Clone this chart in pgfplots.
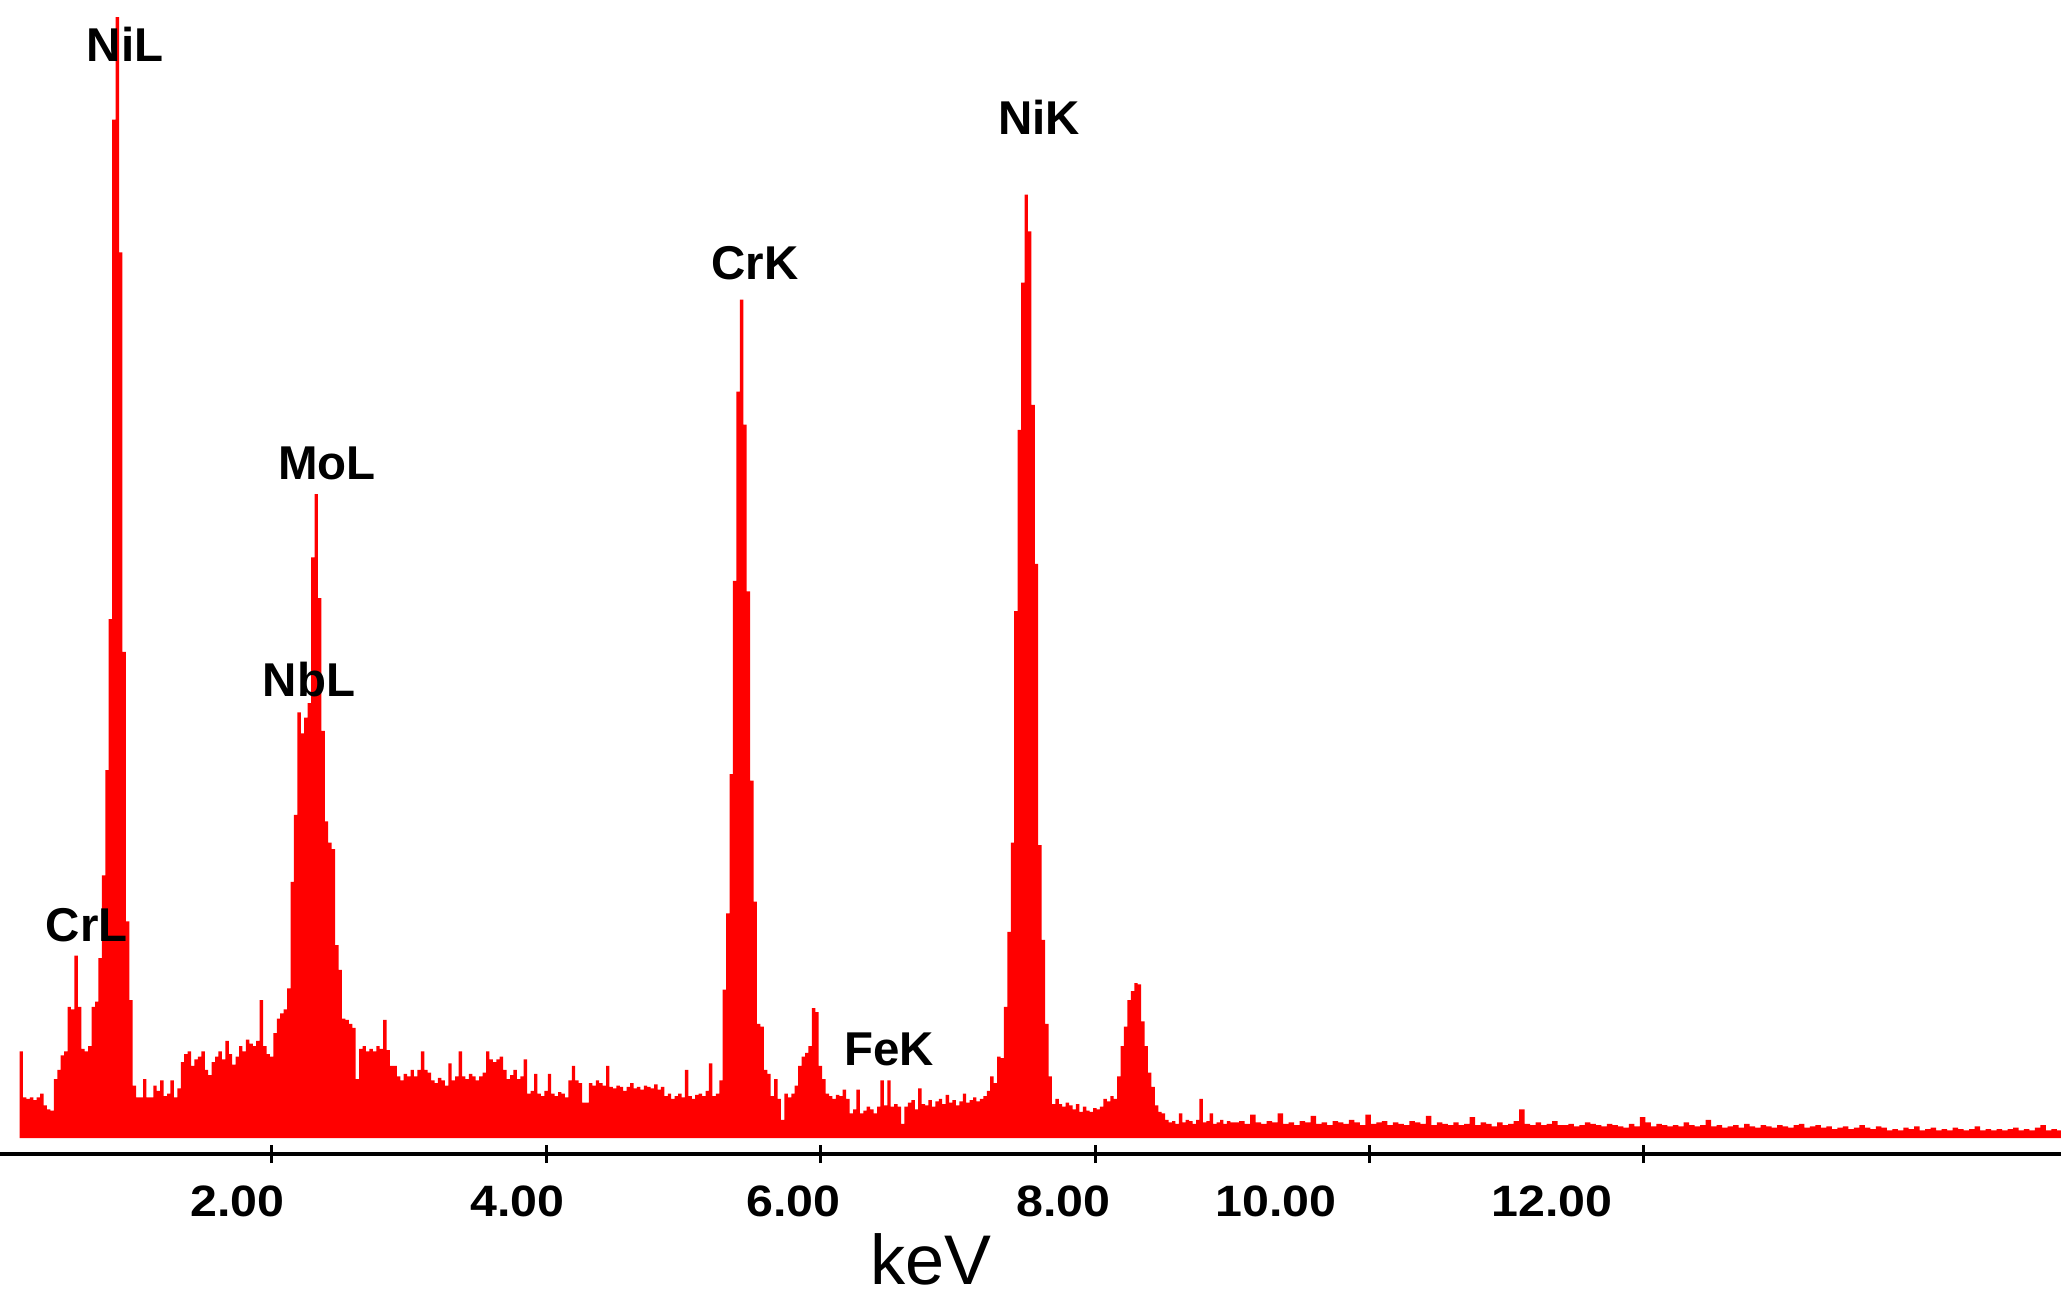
\documentclass[border=0pt]{standalone}
\usepackage{fontspec}
\setmainfont{Liberation Sans}
\usepackage{graphicx}
\usepackage{pgfplots}
\pgfplotsset{compat=1.18}
\definecolor{specred}{RGB}{255,0,0}
\newcommand{\tl}[1]{\scalebox{1.1}[1]{#1}}

\begin{document}
\begin{tikzpicture}
\begin{axis}[
  at={(0,0)}, anchor=north west,
  scale only axis, width=20.61cm, height=11.54cm,
  xmin=0.0175, xmax=15.04, ymin=-12, ymax=866,
  axis y line=none, axis x line*=bottom,
  axis line style={line width=0.45mm, black},
  xtick={2,4,6,8,10,12}, xticklabels={},
  xtick align=center, major tick length=1.8mm,
  tick style={line width=0.3mm, black},
  minor tick num=0,
  extra x ticks={1.75,3.79,5.80,7.77,9.32,11.33},
  extra x tick labels={\tl{2.00},\tl{4.00},\tl{6.00},\tl{8.00},\tl{10.00},\tl{12.00}},
  extra x tick style={major tick length=0pt,
    xticklabel style={anchor=base, yshift=-6.2mm,
      font=\fontsize{12.5}{14}\selectfont\bfseries}},
  xlabel={keV},
  xlabel style={at={(axis description cs:0.4515,-0.1207)}, anchor=base,
    yshift=0.9mm, font=\fontsize{20}{24}\selectfont},
  clip=false,
]
% EDS spectrum, counts per channel (arbitrary units)
\addplot[const plot, fill=specred, draw=none] coordinates {
(0.16,66) (0.185,31) (0.21,30) (0.235,31) (0.26,29) (0.285,31) (0.31,34) (0.335,25)
(0.36,22) (0.385,21) (0.41,45) (0.435,52) (0.46,63) (0.485,66) (0.51,100) (0.535,98)
(0.56,139) (0.585,100) (0.61,68) (0.635,66) (0.66,70) (0.685,100) (0.71,104) (0.735,137)
(0.76,200) (0.785,280) (0.81,395) (0.835,775) (0.86,853) (0.885,674) (0.91,370) (0.935,165)
(0.96,105) (0.985,40) (1.01,31) (1.035,31) (1.06,45) (1.085,31) (1.11,31) (1.135,40)
(1.16,36) (1.185,44) (1.21,32) (1.235,34) (1.26,44) (1.285,31) (1.31,38) (1.335,58)
(1.36,64) (1.385,66) (1.41,55) (1.435,60) (1.46,62) (1.485,66) (1.51,52) (1.535,48)
(1.56,58) (1.585,62) (1.61,66) (1.635,60) (1.66,74) (1.685,64) (1.71,56) (1.735,62)
(1.76,70) (1.785,66) (1.81,75) (1.835,72) (1.86,70) (1.885,74) (1.91,105) (1.935,70)
(1.96,64) (1.985,62) (2.01,80) (2.035,91) (2.06,95) (2.085,98) (2.11,114) (2.135,195)
(2.16,246) (2.185,324) (2.21,308) (2.235,320) (2.26,331) (2.285,442) (2.31,490) (2.335,411)
(2.36,310) (2.385,241) (2.41,225) (2.435,220) (2.46,147) (2.485,128) (2.51,91) (2.535,90)
(2.56,87) (2.585,84) (2.61,45) (2.635,68) (2.66,70) (2.685,66) (2.71,68) (2.735,66)
(2.76,70) (2.785,68) (2.81,90) (2.835,67) (2.86,55) (2.885,55) (2.91,47) (2.935,44)
(2.96,49) (2.985,47) (3.01,52) (3.035,47) (3.06,52) (3.085,66) (3.11,52) (3.135,50)
(3.16,44) (3.185,42) (3.21,46) (3.235,44) (3.26,40) (3.285,57) (3.31,44) (3.335,47)
(3.36,66) (3.385,47) (3.41,45) (3.435,49) (3.46,47) (3.485,44) (3.51,47) (3.535,50)
(3.56,66) (3.585,60) (3.61,58) (3.635,60) (3.66,62) (3.685,52) (3.71,45) (3.735,48)
(3.76,52) (3.785,45) (3.81,47) (3.835,60) (3.86,34) (3.885,36) (3.91,49) (3.935,34)
(3.96,32) (3.985,36) (4.01,49) (4.035,34) (4.06,32) (4.085,35) (4.11,34) (4.135,31)
(4.16,44) (4.185,55) (4.21,44) (4.235,42) (4.26,27) (4.285,27) (4.31,42) (4.335,40)
(4.36,44) (4.385,42) (4.41,40) (4.435,55) (4.46,39) (4.485,38) (4.51,40) (4.535,39)
(4.56,36) (4.585,39) (4.61,42) (4.635,38) (4.66,39) (4.685,37) (4.71,40) (4.735,39)
(4.76,38) (4.785,41) (4.81,37) (4.835,39) (4.86,32) (4.885,34) (4.91,30) (4.935,32)
(4.96,34) (4.985,31) (5.01,52) (5.035,32) (5.06,30) (5.085,33) (5.11,34) (5.135,32)
(5.16,36) (5.185,57) (5.21,32) (5.235,34) (5.26,44) (5.285,113) (5.31,171) (5.335,277)
(5.36,424) (5.385,568) (5.41,638) (5.435,543) (5.46,416) (5.485,272) (5.51,180) (5.535,87)
(5.56,85) (5.585,52) (5.61,49) (5.635,32) (5.66,45) (5.685,30) (5.71,14) (5.735,34)
(5.76,31) (5.785,34) (5.81,40) (5.835,55) (5.86,62) (5.885,65) (5.91,70) (5.935,99)
(5.96,96) (5.985,55) (6.01,45) (6.035,34) (6.06,32) (6.085,30) (6.11,33) (6.135,32)
(6.16,37) (6.185,30) (6.21,19) (6.235,22) (6.26,37) (6.285,19) (6.31,21) (6.335,24)
(6.36,22) (6.385,19) (6.41,24) (6.435,44) (6.46,25) (6.485,44) (6.51,24) (6.535,26)
(6.56,24) (6.585,11) (6.61,24) (6.635,27) (6.66,29) (6.685,22) (6.71,38) (6.735,26)
(6.76,25) (6.785,29) (6.81,24) (6.835,28) (6.86,30) (6.885,26) (6.91,33) (6.935,27)
(6.96,29) (6.985,25) (7.01,28) (7.035,34) (7.06,27) (7.085,29) (7.11,31) (7.135,28)
(7.16,30) (7.185,32) (7.21,36) (7.235,47) (7.26,42) (7.285,62) (7.31,61) (7.335,100)
(7.36,157) (7.385,225) (7.41,401) (7.435,539) (7.46,651) (7.485,718) (7.51,690) (7.535,558)
(7.56,437) (7.585,223) (7.61,151) (7.635,87) (7.66,47) (7.685,26) (7.71,30) (7.735,26)
(7.76,24) (7.785,27) (7.81,25) (7.835,22) (7.86,26) (7.885,20) (7.91,24) (7.935,21)
(7.96,20) (7.985,23) (8.01,22) (8.035,24) (8.06,30) (8.085,28) (8.11,32) (8.135,30)
(8.16,47) (8.185,70) (8.21,85) (8.235,105) (8.26,112) (8.285,118) (8.31,117) (8.335,89)
(8.36,70) (8.385,50) (8.41,39) (8.435,25) (8.46,20) (8.485,19) (8.51,14) (8.535,12)
(8.56,13) (8.585,11) (8.61,19) (8.635,12) (8.66,14) (8.685,13) (8.71,11) (8.735,14)
(8.76,30) (8.785,12) (8.81,13) (8.835,19) (8.86,11) (8.885,12) (8.91,14) (8.935,11)
(8.96,13) (8.985,12)
(9.01,12) (9.05,13) (9.09,11) (9.13,18) (9.17,12) (9.21,11) (9.25,13) (9.29,12) (9.33,19) (9.37,11)
(9.41,12) (9.45,10) (9.49,13) (9.53,12) (9.57,17) (9.61,11) (9.65,12) (9.69,10) (9.73,13) (9.77,12)
(9.81,11) (9.85,14) (9.89,12) (9.93,10) (9.97,18) (10.01,11) (10.05,12) (10.09,13) (10.13,10) (10.17,12)
(10.21,11) (10.25,10) (10.29,13) (10.33,12) (10.37,11) (10.41,17) (10.45,10) (10.49,12) (10.53,11) (10.57,10)
(10.61,12) (10.65,10) (10.69,11) (10.73,16) (10.77,10) (10.81,12) (10.85,11) (10.89,9) (10.93,12) (10.97,10)
(11.01,11) (11.05,13) (11.09,22) (11.13,11) (11.17,10) (11.21,12) (11.25,10) (11.29,11) (11.33,13) (11.37,10)
(11.41,10) (11.45,11) (11.49,9) (11.53,10) (11.57,12) (11.61,11) (11.65,10) (11.69,9) (11.73,11) (11.77,10)
(11.81,9) (11.85,8) (11.89,11) (11.93,9) (11.97,16) (12.01,12) (12.05,9) (12.09,11) (12.13,10) (12.17,9)
(12.21,10) (12.25,9) (12.29,12) (12.33,10) (12.37,9) (12.41,10) (12.45,14) (12.49,9) (12.53,10) (12.57,8)
(12.61,9) (12.65,10) (12.69,8) (12.73,11) (12.77,9) (12.81,8) (12.85,10) (12.89,9) (12.93,8) (12.97,10)
(13.01,9) (13.05,8) (13.09,10) (13.13,11) (13.17,8) (13.21,9) (13.25,10) (13.29,8) (13.33,9) (13.37,7)
(13.41,8) (13.45,9) (13.49,7) (13.53,8) (13.57,10) (13.61,8) (13.65,7) (13.69,9) (13.73,8) (13.77,6)
(13.81,7) (13.85,6) (13.89,8) (13.93,7) (13.97,9) (14.01,6) (14.05,7) (14.09,8) (14.13,6) (14.17,7)
(14.21,6) (14.25,8) (14.29,7) (14.33,6) (14.37,7) (14.41,9) (14.45,6) (14.49,7) (14.53,6) (14.57,7)
(14.61,6) (14.65,7) (14.69,8) (14.73,6) (14.77,7) (14.81,6) (14.85,8) (14.89,10) (14.93,6) (14.97,7)
(15.01,6) (15.05,6)
} \closedcycle;

% peak labels
\begin{scope}[every node/.style={anchor=base, inner sep=0pt,
    font=\fontsize{13.5}{16}\selectfont\bfseries}]
\node at (axis cs:0.93,819) {NiL};
\node at (axis cs:7.59,764) {NiK};
\node at (axis cs:5.52,653) {CrK};
\node at (axis cs:2.40,501) {MoL};
\node at (axis cs:2.27,336) {NbL};
\node at (axis cs:0.65,150) {CrL};
\node at (axis cs:6.50,55) {FeK};
\end{scope}
\end{axis}
\pgfresetboundingbox
\useasboundingbox (0,0) rectangle (20.61cm,-13.01cm);
\end{tikzpicture}
\end{document}
